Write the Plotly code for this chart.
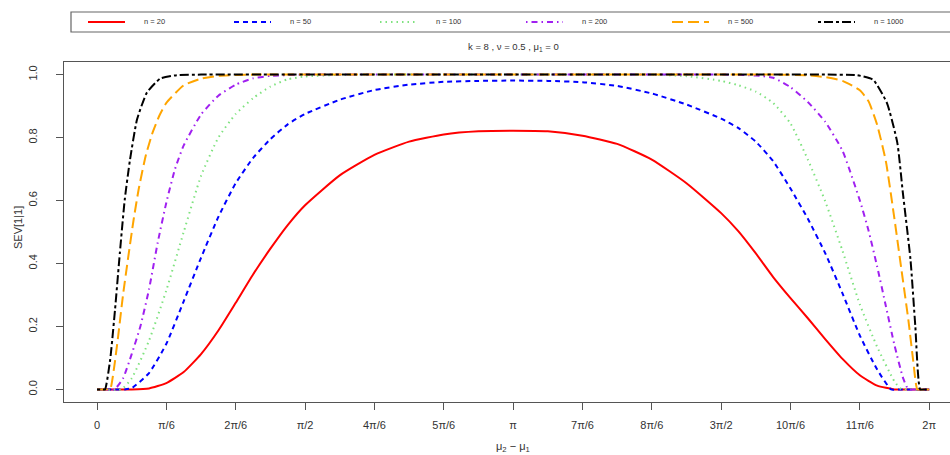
import numpy as np
import plotly.graph_objects as go

PI = np.pi

# ---- data: x in multiples of pi/6 (mu2 - mu1), y = SEV[1|1] ----
series_names = ["n = 20", "n = 50", "n = 100", "n = 200", "n = 500", "n = 1000"]
series_colors = ["#FF0000", "#0000FF", "#7FE27F", "#A020F0", "#FFA500", "#000000"]
series_dash = ["solid", "5px,4px", "1.5px,4px", "1.5px,4px,6px,4px", "11px,5px", "3px,3px,9px,3px"]

u_n20 = [0, 0.5, 0.75, 1.0, 1.25, 1.5, 1.75, 2.0, 2.25, 2.5, 2.75, 3.0, 3.5, 4.0, 4.5, 5.0, 5.5, 6.0,
         6.5, 7.0, 7.5, 8.0, 8.5, 9.0, 9.25, 9.5, 9.75, 10.0, 10.25, 10.5, 10.75, 11.0, 11.25, 11.5, 11.7, 12]
v_n20 = [0, 0, 0.003, 0.02, 0.055, 0.112, 0.187, 0.275, 0.365, 0.447, 0.522, 0.585, 0.68, 0.745, 0.787, 0.81, 0.82, 0.822,
         0.82, 0.806, 0.78, 0.73, 0.655, 0.56, 0.502, 0.432, 0.357, 0.29, 0.226, 0.16, 0.097, 0.045, 0.012, 0, 0, 0]

u_n50 = [0, 0.4, 0.5, 0.75, 1.0, 1.25, 1.5, 1.75, 2.0, 2.25, 2.5, 2.75, 3.0, 3.5, 4.0, 4.5, 5.0, 5.5, 6.0,
         6.5, 7.0, 7.5, 8.0, 8.5, 9.0, 9.25, 9.5, 9.75, 10.0, 10.25, 10.5, 10.75, 11.0, 11.25, 11.45, 11.55, 12]
v_n50 = [0, 0, 0.004, 0.052, 0.145, 0.28, 0.418, 0.548, 0.655, 0.735, 0.795, 0.842, 0.875, 0.92, 0.951, 0.968, 0.977, 0.98, 0.981,
         0.98, 0.976, 0.964, 0.94, 0.905, 0.86, 0.83, 0.787, 0.725, 0.638, 0.542, 0.433, 0.305, 0.171, 0.063, 0, 0, 0]

u_n100 = [0, 0.35, 0.5, 0.75, 1.0, 1.25, 1.5, 1.75, 2.0, 2.25, 2.5, 2.75, 3.0, 3.5, 4.0, 5.0, 6.0, 7.0,
          8.0, 8.5, 9.0, 9.25, 9.5, 9.75, 10.0, 10.25, 10.5, 10.75, 11.0, 11.25, 11.5, 11.6, 11.7, 12]
v_n100 = [0, 0, 0.035, 0.155, 0.315, 0.5, 0.678, 0.8, 0.875, 0.925, 0.962, 0.985, 0.994, 0.999, 1.0, 1.0, 1.0, 1.0,
          1.0, 0.995, 0.98, 0.966, 0.946, 0.91, 0.845, 0.73, 0.598, 0.44, 0.27, 0.135, 0.025, 0, 0, 0]

u_n200 = [0, 0.25, 0.375, 0.5, 0.625, 0.75, 0.875, 1.0, 1.125, 1.25, 1.5, 1.75, 2.0, 2.25, 2.5, 3.0, 4.0, 5.0, 6.0,
          7.0, 8.0, 9.0, 9.5, 9.75, 10.0, 10.25, 10.5, 10.75, 11.0, 11.125, 11.25, 11.375, 11.5, 11.625, 11.7, 11.8, 12]
v_n200 = [0, 0, 0.035, 0.112, 0.2, 0.318, 0.466, 0.594, 0.7, 0.775, 0.873, 0.933, 0.968, 0.988, 0.996, 1.0, 1.0, 1.0, 1.0,
          1.0, 1.0, 1.0, 0.997, 0.99, 0.96, 0.913, 0.85, 0.758, 0.6, 0.505, 0.39, 0.265, 0.14, 0.035, 0, 0, 0]

u_n500 = [0, 0.15, 0.19, 0.25, 0.3, 0.375, 0.45, 0.525, 0.6, 0.7, 0.8, 0.9, 1.0, 1.25, 1.5, 1.75, 2.25, 3.0, 4.0, 5.0, 6.0,
          7.0, 8.0, 9.0, 9.75, 10.25, 10.5, 10.75, 11.0, 11.125, 11.25, 11.375, 11.5, 11.6, 11.7, 11.77, 11.83, 11.9, 12]
v_n500 = [0, 0, 0, 0.075, 0.16, 0.3, 0.42, 0.535, 0.635, 0.74, 0.815, 0.87, 0.91, 0.966, 0.987, 0.996, 1.0, 1.0, 1.0, 1.0, 1.0,
          1.0, 1.0, 1.0, 1.0, 0.998, 0.992, 0.98, 0.95, 0.915, 0.84, 0.725, 0.54, 0.38, 0.22, 0.09, 0, 0, 0]

u_n1000 = [0, 0.08, 0.115, 0.19, 0.26, 0.33, 0.40, 0.476, 0.577, 0.72, 0.91, 1.15, 1.5, 2.5, 4.0, 6.0, 8.0, 9.5,
           10.5, 10.96, 11.19, 11.39, 11.54, 11.62, 11.73, 11.80, 11.87, 11.93, 12]
v_n1000 = [0, 0, 0, 0.095, 0.254, 0.435, 0.603, 0.73, 0.857, 0.943, 0.987, 0.998, 1.0, 1.0, 1.0, 1.0, 1.0, 1.0,
           1.0, 0.998, 0.984, 0.91, 0.784, 0.625, 0.413, 0.2, 0, 0, 0]

series_u = [u_n20, u_n50, u_n100, u_n200, u_n500, u_n1000]
series_v = [v_n20, v_n50, v_n100, v_n200, v_n500, v_n1000]

tick_steps = list(range(13))
tick_labels = ["0", "π/6", "2π/6", "π/2", "4π/6", "5π/6", "π", "7π/6", "8π/6", "3π/2", "10π/6", "11π/6", "2π"]
y_ticks = [0, 0.2, 0.4, 0.6, 0.8, 1.0]
y_tick_labels = ["0.0", "0.2", "0.4", "0.6", "0.8", "1.0"]

# ---- layout geometry ----
W, H = 950, 455
ML, MR, MT, MB = 64, 0, 62, 53
PW, PH = W - ML - MR, H - MT - MB
FONT = "Liberation Sans, Arial, sans-serif"
AX = "#555555"
TXT = "#333333"


def px(x):
    return (x - ML) / PW


def py(y):
    return (H - MB - y) / PH


fig = go.Figure()
for name, col, dash, u, v in zip(series_names, series_colors, series_dash, series_u, series_v):
    fig.add_trace(go.Scatter(
        x=np.array(u) * PI / 6, y=v, mode="lines", name=name, showlegend=False,
        line=dict(color=col, width=2, dash=dash, shape="spline", smoothing=0.5)))

shapes = []
annotations = []
# legend box
shapes.append(dict(type="rect", xref="paper", yref="paper", x0=px(71), x1=px(965), y0=py(32), y1=py(12),
                   line=dict(color="#666666", width=1.2), fillcolor="rgba(0,0,0,0)"))
for i, (name, col, dash) in enumerate(zip(series_names, series_colors, series_dash)):
    x0 = 88 + i * 146
    shapes.append(dict(type="line", xref="paper", yref="paper", x0=px(x0), x1=px(x0 + 37), y0=py(22), y1=py(22),
                       line=dict(color=col, width=2, dash=dash)))
    annotations.append(dict(text=name, xref="paper", yref="paper", x=px(x0 + 54), y=py(22), xanchor="left",
                            yanchor="middle", showarrow=False, font=dict(family=FONT, size=7.5, color=TXT)))

annotations.append(dict(text="k = 8 , ν = 0.5 , μ<sub>1</sub> = 0", xref="paper", yref="paper", x=px(513), y=py(47),
                        xanchor="center", yanchor="middle", showarrow=False, font=dict(family=FONT, size=9.5, color=TXT)))
annotations.append(dict(text="μ<sub>2</sub> − μ<sub>1</sub>", xref="paper", yref="paper", x=px(513), y=py(447),
                        xanchor="center", yanchor="middle", showarrow=False, font=dict(family=FONT, size=11, color=TXT)))
annotations.append(dict(text="SEV[1|1]", xref="paper", yref="paper", x=px(18), y=py(228), textangle=-90,
                        xanchor="center", yanchor="middle", showarrow=False, font=dict(family=FONT, size=11, color=TXT)))

fig.update_layout(
    width=W, height=H, margin=dict(l=ML, r=MR, t=MT, b=MB),
    paper_bgcolor="white", plot_bgcolor="white",
    shapes=shapes, annotations=annotations,
    font=dict(family=FONT, color=TXT),
)
fig.update_xaxes(
    range=[-0.476 * PI / 6, 12.30 * PI / 6],
    tickvals=[k * PI / 6 for k in tick_steps], ticktext=tick_labels,
    ticks="outside", ticklen=7, tickcolor=AX, tickwidth=1,
    showline=True, mirror=True, linecolor=AX, linewidth=1.2,
    showgrid=False, zeroline=False,
    tickfont=dict(family=FONT, size=11, color=TXT), ticklabelstandoff=6,
)
fig.update_yaxes(
    range=[-0.04, 1.04], tickvals=y_ticks, ticktext=y_tick_labels, tickangle=-90,
    ticks="outside", ticklen=7, tickcolor=AX, tickwidth=1,
    showline=True, mirror=False, linecolor=AX, linewidth=1.2,
    showgrid=False, zeroline=False,
    tickfont=dict(family=FONT, size=11, color=TXT), ticklabelstandoff=15,
)
fig.write_html("out.html")
